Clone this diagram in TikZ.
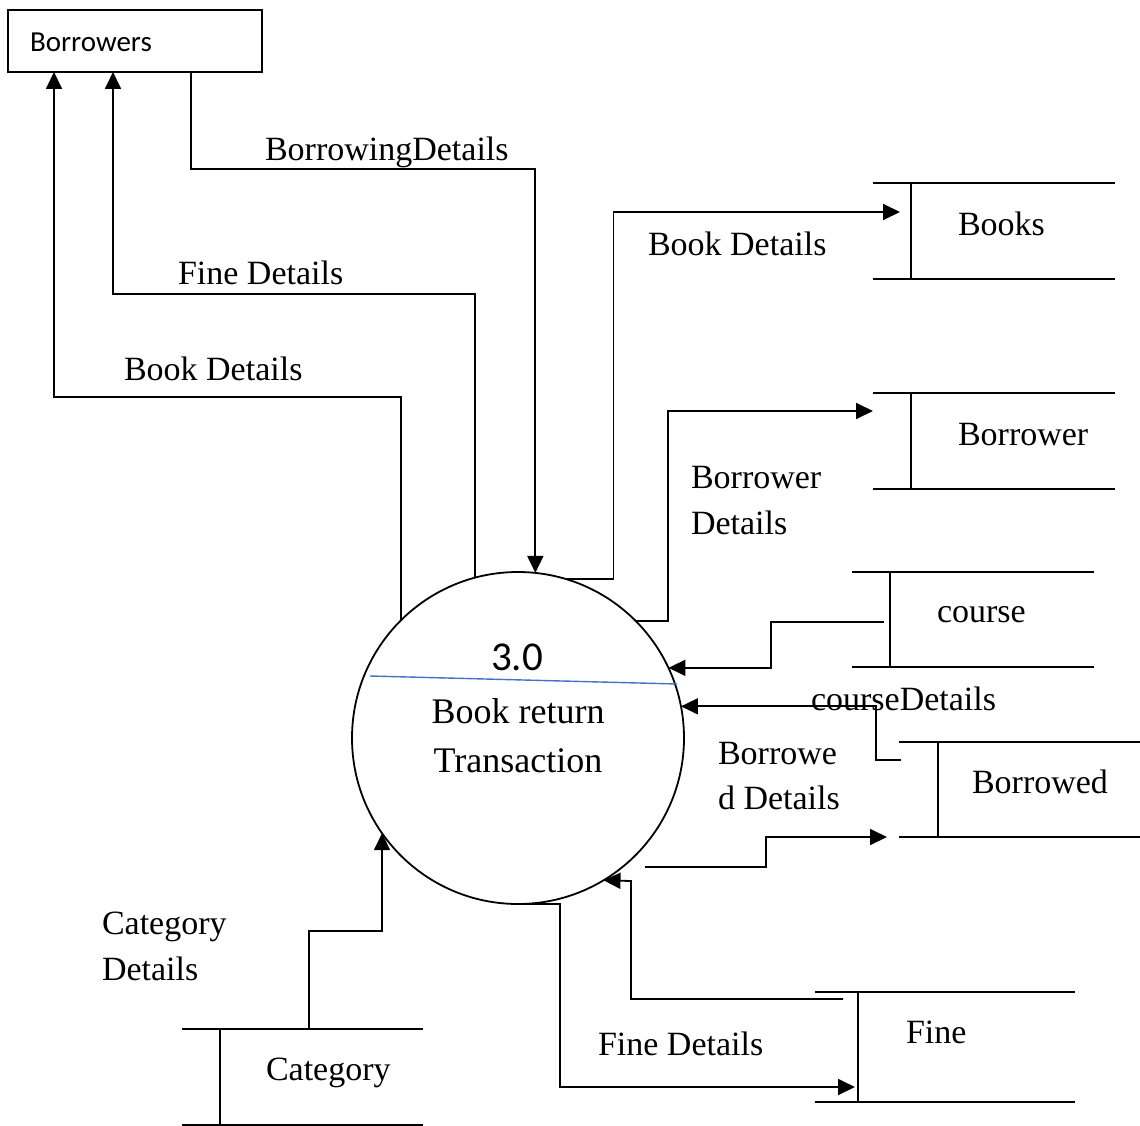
\documentclass[tikz,border=0pt]{standalone}
\usepackage{fontspec}
\setmainfont{Liberation Serif}
\newfontfamily\calfont{Carlito}
\usetikzlibrary{arrows.meta,calc}
% open-ended data store: top and bottom rules plus the inner divider
\newcommand\storelines[2]{%
  \draw[plain] (#1.north west) -- (#1.north east)
               (#1.south west) -- (#1.south east)
               ([xshift=#2pt]#1.north west) -- ([xshift=#2pt]#1.south west);}
\begin{document}
\begin{tikzpicture}[x=1pt,y=-1pt,
  every node/.style={inner sep=0pt,outer sep=0pt},
  plain/.style={line width=1.8pt},
  flow/.style={line width=1.8pt,-{Triangle[length=17pt,width=16pt]}},
  lbl/.style={anchor=base west,font=\fontsize{34}{46}\selectfont,align=left},
  storebox/.style={draw=none,minimum width=#1},
  divider/.style={draw={rgb,255:red,68;green,114;blue,196},line width=1.4pt}]
\useasboundingbox (0,0) rectangle (1140,1126);

% external entity
\node[draw,line width=1.8pt,minimum width=254pt,minimum height=62pt] (borrowers) at (135,41) {};
\node[anchor=base west,font=\calfont\fontsize{29}{34}\selectfont] (borrowersT) at (30,52) {Borrowers};

% process
\node[circle,draw,line width=1.8pt,minimum size=332pt] (proc) at (518,738) {};
\draw[divider] (370,676) -- (677,684);
\node[anchor=base,font=\calfont\fontsize{41}{48}\selectfont] (procNo) at (517,670) {3.0};
% a multi-line node sits on the baseline of its last line
\node[anchor=base,font=\fontsize{36}{49}\selectfont,align=center] (procT) at (518,772) {Book return\\Transaction};

% data stores
\node[storebox=242pt,minimum height=96pt] (books) at (994,231) {};
\node[storebox=242pt,minimum height=96pt] (bwr) at (994,441) {};
\node[storebox=242pt,minimum height=95pt] (course) at (973,619.5) {};
\node[storebox=241pt,minimum height=95pt] (bwd) at (1019.5,789.5) {};
\node[storebox=260pt,minimum height=110pt] (fine) at (945,1047) {};
\node[storebox=241pt,minimum height=96pt] (cat) at (302.5,1077) {};
\storelines{books}{38}
\storelines{bwr}{38}
\storelines{course}{38}
\storelines{bwd}{39}
\storelines{fine}{43}
\storelines{cat}{38}
\node[lbl] (booksT) at (958,235) {Books};
\node[lbl] (bwrT) at (958,445) {Borrower};
\node[lbl] (courseT) at (937,622) {course};
\node[lbl] (bwdT) at (972,793) {Borrowed};
\node[lbl] (fineT) at (906,1043) {Fine};
\node[lbl] (catT) at (266,1080) {Category};

% flows between the borrowers and the process
\draw[flow] (proc.135) -- ++(0,-224) -| ([xshift=46pt]borrowers.south west);
\draw[flow] (proc.105.4) -- ++(0,-284) -| ([xshift=105pt]borrowers.south west);
\draw[flow] ([xshift=183pt]borrowers.south west) -- ++(0,97) -| (proc.84.8);

% flows between the process and the stores
\draw[flow] (proc.73.3) -- ++(47,0) |- ([xshift=27pt,yshift=-29pt]books.north west);
\draw[flow] (proc.45) -- ++(33,0) |- ([yshift=-18pt]bwr.north west);
\draw[flow] ([xshift=32pt,yshift=-50pt]course.north west) -- ++(-113,0) |- (proc.25.3);
\draw[flow] ([xshift=2pt,yshift=-18pt]bwd.north west) -- ++(-25,0) |- (proc.11.1);
\coordinate (bwdOut) at (645,867);
\draw[flow] (bwdOut) -- ++(121,0) |- ([xshift=-12pt]bwd.south west);
\draw[flow] ([xshift=28pt,yshift=-7pt]fine.north west) -- ++(-212,0) -- ++(0,-118) -- (proc.-59.5);
\draw[flow] (proc.-92) -- ++(48,0) |- ([xshift=40pt,yshift=15pt]fine.south west);
\draw[flow] ([xshift=127pt]cat.north west) -- ++(0,-98) -| (proc.215);

% flow labels
\node[lbl] (l1) at (265,161) {BorrowingDetails};
\node[lbl] (l2) at (178,284) {Fine Details};
\node[lbl] (l3) at (124,380) {Book Details};
\node[lbl] (l4) at (648,255) {Book Details};
\node[lbl] (l5) at (691,534) {Borrower\\Details};
\node[lbl] (l6) at (811,710) {courseDetails};
\node[lbl,font=\fontsize{34}{45}\selectfont] (l7) at (718,809) {Borrowe\\d Details};
\node[lbl] (l8) at (598,1055) {Fine Details};
\node[lbl] (l9) at (102,980) {Category\\Details};
\end{tikzpicture}
\end{document}
